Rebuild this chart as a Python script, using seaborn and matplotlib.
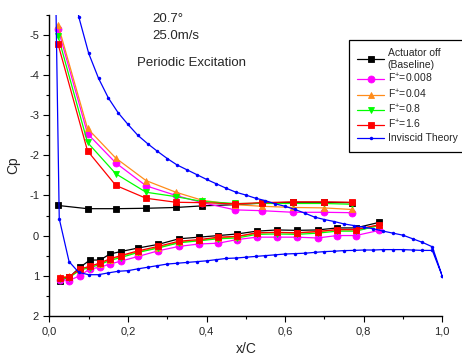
import numpy as np
import pandas as pd
import seaborn as sns
import matplotlib.pyplot as plt
from matplotlib.ticker import MultipleLocator, FuncFormatter

# experimental taps, upper (suction) surface
x_upper = [0.022, 0.097, 0.169, 0.246, 0.322, 0.389, 0.473, 0.541, 0.621, 0.698, 0.770]
cp_upper_base = [-0.75, -0.67, -0.67, -0.68, -0.70, -0.74, -0.77, -0.81, -0.83, -0.83, -0.82]
cp_upper_f0008 = [-5.15, -2.54, -1.81, -1.24, -1.00, -0.82, -0.64, -0.62, -0.58, -0.58, -0.57]
cp_upper_f004 = [-5.25, -2.67, -1.93, -1.37, -1.08, -0.88, -0.77, -0.73, -0.70, -0.69, -0.65]
cp_upper_f08 = [-4.97, -2.32, -1.54, -1.08, -0.97, -0.85, -0.80, -0.80, -0.80, -0.80, -0.78]
cp_upper_f16 = [-4.77, -2.11, -1.25, -0.93, -0.83, -0.82, -0.79, -0.82, -0.84, -0.84, -0.83]

# experimental taps, lower (pressure) surface
x_lower = [0.027, 0.050, 0.078, 0.103, 0.129, 0.154, 0.181, 0.226, 0.277, 0.330,
           0.381, 0.430, 0.478, 0.528, 0.579, 0.630, 0.683, 0.732, 0.780, 0.840]
cp_lower_base = [1.12, 1.04, 0.79, 0.61, 0.61, 0.46, 0.40, 0.31, 0.22, 0.08,
                 0.04, 0.00, -0.04, -0.11, -0.14, -0.13, -0.14, -0.19, -0.19, -0.33]
cp_lower_f0008 = [1.10, 1.12, 1.00, 0.83, 0.79, 0.71, 0.64, 0.52, 0.38, 0.27,
                  0.21, 0.19, 0.10, 0.04, 0.04, 0.04, 0.06, 0.00, 0.00, -0.13]
cp_lower_f004 = [1.03, 1.02, 0.85, 0.76, 0.70, 0.60, 0.52, 0.40, 0.30, 0.16,
                 0.12, 0.06, 0.03, -0.06, -0.08, -0.06, -0.10, -0.14, -0.14, -0.26]
cp_lower_f08 = [1.08, 1.05, 0.86, 0.80, 0.72, 0.62, 0.55, 0.42, 0.31, 0.18,
                0.13, 0.08, 0.06, -0.03, -0.04, -0.03, -0.06, -0.11, -0.11, -0.25]
cp_lower_f16 = [1.06, 1.03, 0.83, 0.77, 0.68, 0.58, 0.50, 0.38, 0.27, 0.14,
                0.10, 0.04, 0.02, -0.07, -0.08, -0.07, -0.10, -0.15, -0.15, -0.27]

# inviscid theory: trailing edge -> lower surface -> leading edge -> upper surface -> trailing edge
x_theory = [1.0, 0.975, 0.95, 0.925, 0.9, 0.875, 0.85, 0.825, 0.8, 0.775, 0.75, 0.725, 0.7,
            0.675, 0.65, 0.625, 0.6, 0.575, 0.55, 0.525, 0.5, 0.475, 0.45, 0.425, 0.4, 0.375,
            0.35, 0.325, 0.3, 0.275, 0.25, 0.225, 0.2, 0.175, 0.15, 0.125, 0.1, 0.075, 0.05,
            0.025, 0.005,
            0.025, 0.05, 0.075, 0.1, 0.125, 0.15, 0.175, 0.2, 0.225, 0.25, 0.275, 0.3, 0.325,
            0.35, 0.375, 0.4, 0.425, 0.45, 0.475, 0.5, 0.525, 0.55, 0.575, 0.6, 0.625, 0.65,
            0.675, 0.7, 0.725, 0.75, 0.775, 0.8, 0.825, 0.85, 0.875, 0.9, 0.925, 0.95, 0.975, 1.0]
cp_theory = [1.0, 0.37, 0.37, 0.36, 0.35, 0.35, 0.35, 0.36, 0.36, 0.37, 0.375, 0.39, 0.40,
             0.42, 0.44, 0.45, 0.46, 0.48, 0.50, 0.52, 0.54, 0.56, 0.57, 0.60, 0.63, 0.65,
             0.67, 0.69, 0.71, 0.75, 0.79, 0.83, 0.875, 0.89, 0.93, 0.975, 0.975, 0.92, 0.65,
             -0.42, -13.0,
             -9.5, -7.0, -5.44, -4.54, -3.92, -3.43, -3.06, -2.77, -2.50, -2.29, -2.10, -1.92,
             -1.76, -1.64, -1.52, -1.40, -1.29, -1.18, -1.08, -1.01, -0.93, -0.87, -0.79, -0.73,
             -0.65, -0.56, -0.46, -0.40, -0.35, -0.29, -0.25, -0.21, -0.17, -0.11, -0.06, -0.01,
             0.08, 0.17, 0.28, 1.0]

series = [
    ("Actuator off\n(Baseline)", "black", "s", cp_upper_base, cp_lower_base),
    ("F$^{+}$=0.008", "#ff00ff", "o", cp_upper_f0008, cp_lower_f0008),
    ("F$^{+}$=0.04", "#ff8c1a", "^", cp_upper_f004, cp_lower_f004),
    ("F$^{+}$=0.8", "#00ff00", "v", cp_upper_f08, cp_lower_f08),
    ("F$^{+}$=1.6", "#ff0000", "s", cp_upper_f16, cp_lower_f16),
]

sns.set_style("ticks")
plt.rcParams['font.family'] = ['Liberation Sans', 'DejaVu Sans']
plt.rcParams['mathtext.fontset'] = 'custom'
plt.rcParams['mathtext.rm'] = 'Liberation Sans'
plt.rcParams['mathtext.default'] = 'regular'

fig = plt.figure(figsize=(4.62, 3.63), dpi=100)
ax = fig.add_axes([0.107, 0.130, 0.850, 0.829])

for label, color, marker, cp_up, cp_lo in series:
    style = dict(color=color, marker=marker, markersize=5, markeredgecolor=color,
                 markeredgewidth=0.6, linewidth=0.9, sort=False, estimator=None, ax=ax)
    sns.lineplot(x=x_upper, y=cp_up, label=label, **style)
    sns.lineplot(x=x_lower, y=cp_lo, **style)

sns.lineplot(x=x_theory, y=cp_theory, color="#0000ff", marker="o", markersize=2.5,
             markeredgewidth=0, linewidth=0.9, sort=False, estimator=None, ax=ax,
             label="Inviscid Theory")

ax.set_xlim(0, 1.0)
ax.set_ylim(2, -5.5)
ax.xaxis.set_major_locator(MultipleLocator(0.2))
ax.xaxis.set_minor_locator(MultipleLocator(0.1))
ax.yaxis.set_major_locator(MultipleLocator(1))
ax.yaxis.set_minor_locator(MultipleLocator(0.5))
ax.xaxis.set_major_formatter(FuncFormatter(lambda v, p: f"{v:.1f}".replace(".", ",")))
ax.yaxis.set_major_formatter(FuncFormatter(lambda v, p: f"{v:.0f}"))
ax.tick_params(which='major', direction='out', length=4, width=0.8, labelsize=8, color='black')
ax.tick_params(which='minor', direction='out', length=2.5, width=0.8, color='black')
sns.despine(ax=ax)
for s in ['left', 'bottom']:
    ax.spines[s].set_color('black')
    ax.spines[s].set_linewidth(1.0)

ax.set_xlabel("x/C", fontsize=10, labelpad=4)
ax.set_ylabel("Cp", fontsize=10, labelpad=6)

fig.text(152 / 462, 1 - 19 / 363, "20.7°", fontsize=9.5, va='center')
fig.text(152 / 462, 1 - 36 / 363, "25.0m/s", fontsize=9.5, va='center')
fig.text(137 / 462, 1 - 63 / 363, "Periodic Excitation", fontsize=9.5, va='center')

leg = ax.legend(loc='upper left', bbox_to_anchor=(349 / 462, 1 - 40 / 363),
                bbox_transform=fig.transFigure, borderaxespad=0, fontsize=7.5,
                frameon=True, fancybox=False, edgecolor='black', framealpha=1,
                handlelength=2.6, labelspacing=0.2, handletextpad=0.3, borderpad=0.8)
leg.get_frame().set_linewidth(0.9)

fig.savefig("out.png", dpi=100)
